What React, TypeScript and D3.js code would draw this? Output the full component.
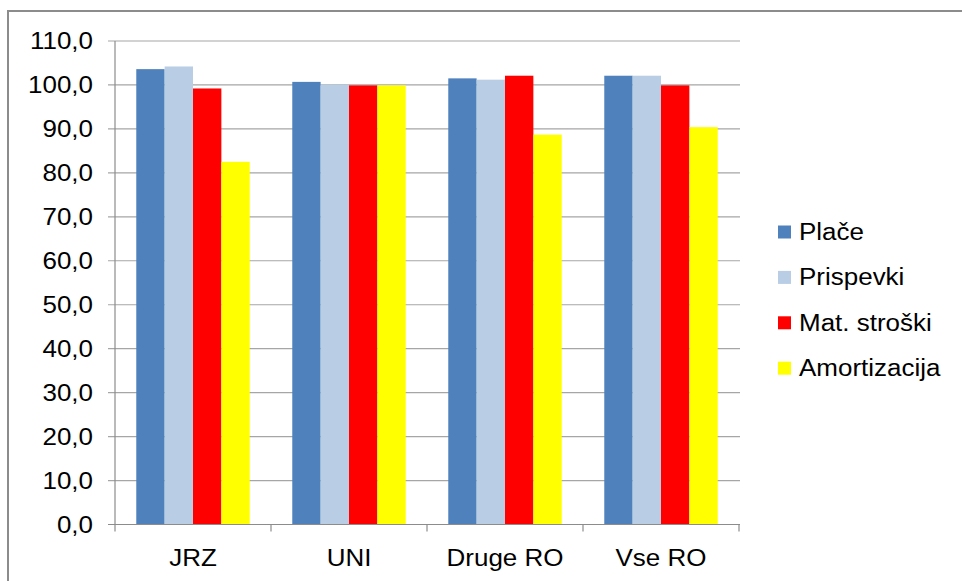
import React from "react";
import * as d3 from "d3";

const categories = ["JRZ", "UNI", "Druge RO", "Vse RO"];
const seriesNames = ["Plače", "Prispevki", "Mat. stroški", "Amortizacija"];
const place = [103.6, 100.7, 101.5, 102.1];
const prispevki = [104.2, 100.1, 101.2, 102.1];
const matStroski = [99.2, 99.9, 102.1, 99.9];
const amortizacija = [82.5, 99.9, 88.7, 90.4];
const seriesValues = [place, prispevki, matStroski, amortizacija];
const colors = ["#4F81BD", "#B9CDE5", "#FF0000", "#FFFF00"];
const yTicks = [0, 10, 20, 30, 40, 50, 60, 70, 80, 90, 100, 110];

const W = 962;
const H = 581;
const FS = 23.2;
const SX = 1.12;

export default function App() {
  const x0 = d3.scaleBand<string>().domain(categories).range([115, 739]).padding(0);
  const x1 = d3
    .scaleBand<string>()
    .domain(seriesNames)
    .range([0, x0.bandwidth()])
    .paddingInner(0)
    .paddingOuter(0.75);
  const y = d3.scaleLinear().domain([0, 110]).range([524.5, 41]);
  const fmt = (v: number) => d3.format(".1f")(v).replace(".", ",");

  const txt = (x: number, yy: number, s: string, anchor: string, key?: any) => (
    <text
      key={key}
      transform={`translate(${x},${yy}) scale(${SX},1)`}
      textAnchor={anchor as any}
      dominantBaseline="central"
      fontFamily="'Liberation Sans', Arial, sans-serif"
      fontSize={FS}
      fill="#000"
    >
      {s}
    </text>
  );

  return (
    <svg
      width={W}
      height={H}
      style={{ position: "absolute", left: 0, top: 0, background: "#fff" }}
    >
      <rect x={8} y={11} width={W} height={H} fill="#fff" stroke="#8c8c8c" strokeWidth={2} />
      {/* gridlines */}
      {yTicks.map((t) => (
        <line
          key={"g" + t}
          x1={108}
          x2={740}
          y1={y(t)}
          y2={y(t)}
          stroke="#a6a6a6"
          strokeWidth={1.2}
        />
      ))}
      {/* bars */}
      {categories.map((c, ci) =>
        seriesNames.map((s, si) => {
          const v = seriesValues[si][ci];
          return (
            <rect
              key={c + s}
              x={(x0(c) as number) + (x1(s) as number)}
              y={y(v)}
              width={x1.bandwidth()}
              height={y(0) - y(v)}
              fill={colors[si]}
            />
          );
        })
      )}
      {/* axes */}
      <line x1={115} x2={115} y1={y(110)} y2={y(0)} stroke="#8c8c8c" strokeWidth={1.2} />
      <line x1={108} x2={740} y1={y(0)} y2={y(0)} stroke="#8c8c8c" strokeWidth={1.2} />
      {categories.map((c) => (
        <line
          key={"t" + c}
          x1={x0(c) as number}
          x2={x0(c) as number}
          y1={y(0)}
          y2={y(0) + 7}
          stroke="#8c8c8c"
          strokeWidth={1.2}
        />
      ))}
      <line x1={739} x2={739} y1={y(0)} y2={y(0) + 7} stroke="#8c8c8c" strokeWidth={1.2} />
      {/* y labels */}
      {yTicks.map((t) => txt(93, y(t), fmt(t), "end", "yl" + t))}
      {/* x labels */}
      {categories.map((c) =>
        txt((x0(c) as number) + x0.bandwidth() / 2, 558, c, "middle", "xl" + c)
      )}
      {/* legend */}
      {seriesNames.map((s, i) => {
        const cy = 232 + i * 45.4;
        return (
          <g key={"lg" + s}>
            <rect x={778} y={cy - 6.5} width={13} height={13} fill={colors[i]} />
            {txt(799, cy, s, "start")}
          </g>
        );
      })}
    </svg>
  );
}
